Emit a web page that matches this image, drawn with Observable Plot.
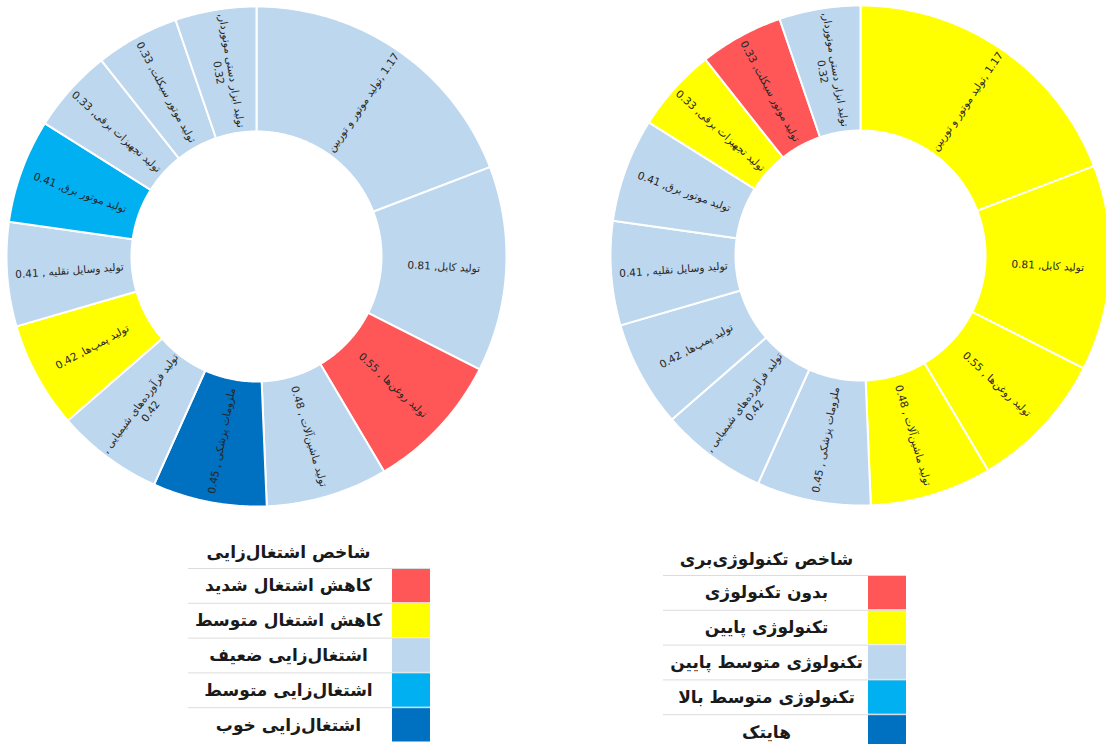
<!DOCTYPE html>
<html>
<head>
<meta charset="utf-8">
<script src="https://cdn.jsdelivr.net/npm/d3@7"></script>
<script src="https://cdn.jsdelivr.net/npm/@observablehq/plot@0.6"></script>
<style>
  html, body { margin: 0; padding: 0; background: #ffffff; }
</style>
</head>
<body>
<div id="chart"></div>
<script>
// ---------------- data ----------------
const categories = [
  "تولید موتور و توربین",
  "تولید کابل",
  "تولید روغن‌ها",
  "تولید ماشین‌آلات",
  "ملزومات پزشکی",
  "تولید فرآورده‌های شیمیایی",
  "تولید پمپ‌ها",
  "تولید وسایل نقلیه",
  "تولید موتور برق",
  "تولید تجهیزات برقی",
  "تولید موتور سیکلت",
  "تولید ابزار دستی موتوردار"
];
const values = [1.17, 0.81, 0.55, 0.48, 0.45, 0.42, 0.42, 0.41, 0.41, 0.33, 0.33, 0.32];
const labelSeparators = [", ", ", ", " , ", " , ", " , ", " ,\n", ", ", " , ", ", ", ", ", ", ", ",\n"];
const labelLeftToRight = [true, false, false, false, false, false, false, false, false, false, false, false];

const employmentTitle = "شاخص اشتغال‌زایی";
const employmentLevels = ["کاهش اشتغال شدید", "کاهش اشتغال متوسط", "اشتغال‌زایی ضعیف", "اشتغال‌زایی متوسط", "اشتغال‌زایی خوب"];
const employmentClass = [2, 2, 0, 2, 4, 2, 1, 2, 3, 2, 2, 2];

const technologyTitle = "شاخص تکنولوژی‌بری";
const technologyLevels = ["بدون تکنولوژی", "تکنولوژی پایین", "تکنولوژی متوسط پایین", "تکنولوژی متوسط بالا", "هایتک"];
const technologyClass = [1, 1, 1, 1, 2, 2, 2, 2, 2, 1, 0, 2];

const levelColors = ["#FF5757", "#FFFF00", "#BDD7EE", "#00B0F0", "#0070C0"];

// ---------------- layout ----------------
const W = 1106, H = 744;
const R = 250, r = 125;
const donuts = [
  {cx: 256, cy: 256, cls: employmentClass},
  {cx: 860, cy: 255, cls: technologyClass}
];
const legends = [
  {title: employmentTitle, levels: employmentLevels, textX: 288, titleY: 552, swX: 392, top: 568, lineX1: 188},
  {title: technologyTitle, levels: technologyLevels, textX: 766, titleY: 559, swX: 868, top: 575, lineX1: 663}
];
const rowH = 34.8, swW = 38;
const ARABIC = "DejaVu Sans";
const LRE = "\u202A", PDF = "\u202C", LRM = "\u200E";

// ---------------- geometry from data ----------------
const pie = d3.pie().sort(null).value(d => d)(values);

const sliceMarks = [];
const labels = [];
donuts.forEach((dn, di) => {
  pie.forEach((p, i) => {
    const pts = [];
    const n = Math.max(6, Math.ceil((p.endAngle - p.startAngle) / 0.01));
    for (let k = 0; k <= n; k++) {
      const a = p.startAngle + (p.endAngle - p.startAngle) * k / n;
      pts.push({x: dn.cx + R * Math.sin(a), y: dn.cy - R * Math.cos(a)});
    }
    for (let k = n; k >= 0; k--) {
      const a = p.startAngle + (p.endAngle - p.startAngle) * k / n;
      pts.push({x: dn.cx + r * Math.sin(a), y: dn.cy - r * Math.cos(a)});
    }
    sliceMarks.push(Plot.line(pts, {
      x: "x", y: "y", curve: "linear-closed",
      fill: levelColors[dn.cls[i]], stroke: "white", strokeWidth: 2
    }));
    const a = (p.startAngle + p.endAngle) / 2;
    const deg = a * 180 / Math.PI;
    const rot = deg < 180 ? deg - 90 : deg - 270;
    const rm = (R + r) / 2;
    const ltr = labelLeftToRight[i];
    const t = ltr
      ? LRE + categories[i] + labelSeparators[i] + LRM + values[i].toFixed(2) + PDF
      : categories[i] + labelSeparators[i] + values[i].toFixed(2);
    labels.push({x: dn.cx + rm * Math.sin(a), y: dn.cy - rm * Math.cos(a), rot, t, ltr});
  });
});

const legendRows = [];
legends.forEach(lg => {
  lg.levels.forEach((lv, j) => {
    legendRows.push({
      x1: lg.swX, x2: lg.swX + swW,
      y1: lg.top + j * rowH, y2: lg.top + (j + 1) * rowH,
      c: j, text: lv, tx: lg.textX, ty: lg.top + (j + 0.5) * rowH,
      lx1: lg.lineX1
    });
  });
});

const chart = Plot.plot({
  width: W, height: H,
  margin: 0,
  style: {background: "white", direction: "rtl", overflow: "hidden"},
  x: {domain: [0, W], range: [0, W], axis: null},
  y: {domain: [0, H], range: [0, H], axis: null},
  color: {type: "ordinal", domain: [0, 1, 2, 3, 4], range: levelColors},
  marks: [
    ...sliceMarks,
    Plot.text(labels, {
      x: "x", y: "y", text: "t", rotate: "rot",
      fontSize: 10.5, fontFamily: ARABIC, fill: "#262626", lineHeight: 1.25
    }),
    Plot.rect(legendRows, {x1: "x1", x2: "x2", y1: d => d.y1 + 0.5, y2: d => d.y2 - 0.5, fill: "c"}),
    Plot.ruleY(legendRows, {y: "y1", x1: "lx1", x2: "x2", stroke: "#dcdcdc", strokeWidth: 1}),
    Plot.text(legendRows, {
      x: "tx", y: "ty", text: "text",
      fontSize: 17, fontWeight: "bold", fontFamily: ARABIC, fill: "#1a1a1a"
    }),
    Plot.text(legends, {
      x: "textX", y: "titleY", text: "title",
      fontSize: 17, fontWeight: "bold", fontFamily: ARABIC, fill: "#1a1a1a"
    })
  ]
});

// left-to-right base direction for the labels flagged in the data
const ltrTexts = new Set(labels.filter(d => d.ltr).map(d => d.t));
d3.select(chart).selectAll("text").each(function () {
  if (ltrTexts.has(this.textContent)) {
    this.setAttribute("direction", "ltr");
    this.style.direction = "ltr";
  }
});
document.getElementById("chart").appendChild(chart);
</script>
</body>
</html>
